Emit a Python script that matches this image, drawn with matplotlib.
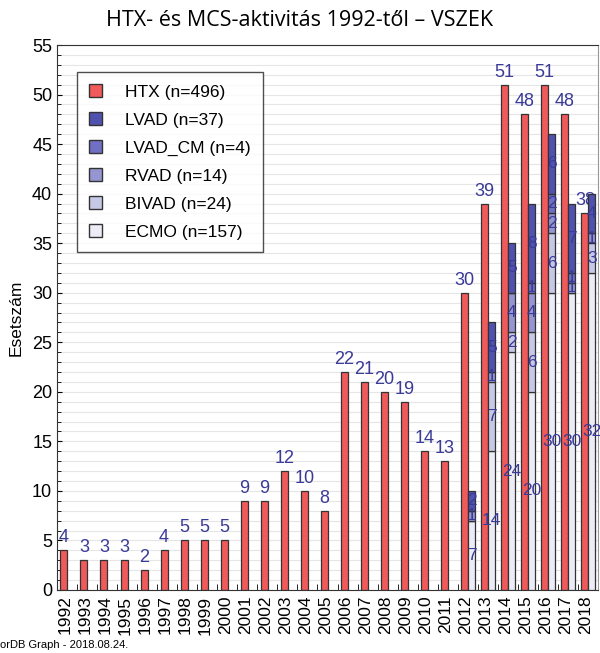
import numpy as np
import matplotlib.pyplot as plt
from matplotlib.patches import Patch

years = [str(y) for y in range(1992, 2019)]
htx = [4, 3, 3, 3, 2, 4, 5, 5, 5, 9, 9, 12, 10, 8, 22, 21, 20, 19, 14, 13,
       30, 39, 51, 48, 51, 48, 38]

# MCS stacks (2012-2018), bottom to top: ECMO, BIVAD, RVAD, LVAD_CM, LVAD
mcs_years = ['2012', '2013', '2014', '2015', '2016', '2017', '2018']
ecmo = [7, 14, 24, 20, 30, 30, 32]
bivad = [0, 7, 2, 6, 6, 0, 3]
rvad = [1, 1, 4, 4, 2, 1, 1]
lvad_cm = [0, 0, 0, 1, 2, 1, 0]
lvad = [2, 5, 5, 8, 6, 7, 4]

legend_labels = ['HTX (n=496)', 'LVAD (n=37)', 'LVAD_CM (n=4)', 'RVAD (n=14)',
                 'BIVAD (n=24)', 'ECMO (n=157)']

c_htx = '#f05a5a'
c_lvad = '#5151b0'
c_lvad_cm = '#6f6fc4'
c_rvad = '#9595d2'
c_bivad = '#c7c7e6'
c_ecmo = '#ececf7'
txt = '#3a3a98'

plt.rcParams['font.family'] = ['Liberation Sans', 'DejaVu Sans']

fig = plt.figure(figsize=(6, 6.53), dpi=100)
ax = fig.add_axes([57 / 600, 63 / 653, 541 / 600, 545 / 653])

x = np.arange(len(years))
bw = 0.35
ax.bar(x - 0.155, htx, width=bw, color=c_htx, edgecolor='#333333', linewidth=0.9, zorder=2)
for xi, v in zip(x, htx):
    ax.text(xi - 0.155, v + 0.4, str(v), ha='center', va='bottom', fontsize=13,
            color=txt, zorder=2.5)

mx = np.array([years.index(y) for y in mcs_years]) + 0.195
bottom = np.zeros(len(mcs_years))
for vals, col in [(ecmo, c_ecmo), (bivad, c_bivad), (rvad, c_rvad),
                  (lvad_cm, c_lvad_cm), (lvad, c_lvad)]:
    vals = np.array(vals)
    ax.bar(mx, vals, width=bw, bottom=bottom, color=col, edgecolor='#333333',
           linewidth=0.9, zorder=3)
    for xi, b, v in zip(mx, bottom, vals):
        if v > 0:
            ax.text(xi, b + v / 2, str(v), ha='center', va='center', fontsize=12.5,
                    color=txt, zorder=4)
    bottom = bottom + vals

ax.set_xlim(-0.5, len(years) - 0.5)
ax.set_ylim(0, 55)
ax.set_yticks(range(0, 56, 5))
ax.set_yticks(range(0, 56), minor=True)
ax.yaxis.grid(True, which='both', color='#e6e6e6', linewidth=0.8, zorder=0)
ax.set_axisbelow(True)
ax.set_xticks(x - 0.1)
ax.set_xticklabels(years, rotation=90, fontsize=12.5)
ax.set_xticks(x + 0.5, minor=True)
ax.tick_params(axis='x', which='major', length=0, pad=4)
ax.tick_params(axis='x', which='minor', direction='in', length=4)
ax.tick_params(axis='y', which='both', direction='in', labelsize=13)
ax.tick_params(axis='y', which='minor', length=3)
ax.set_ylabel('Esetszám', fontsize=12.5, labelpad=6)
for s in ax.spines.values():
    s.set_color('#333333')
ax.spines['right'].set_color('#999999')

handles = [Patch(facecolor=c, edgecolor='#333333') for c in
           [c_htx, c_lvad, c_lvad_cm, c_rvad, c_bivad, c_ecmo]]
leg = ax.legend(handles, legend_labels, loc='upper left', bbox_to_anchor=(0.037, 0.95),
                borderaxespad=0, fontsize=12.5, frameon=True, fancybox=False,
                edgecolor='#222222', handlelength=0.75, handleheight=0.75,
                labelspacing=0.72, borderpad=0.7, handletextpad=1.3)
leg.get_frame().set_linewidth(1.0)

fig.text(0.5, 1 - 20 / 653, 'HTX- és MCS-aktivitás 1992-től – VSZEK', ha='center',
         va='center', fontsize=15.5, family=['Open Sans', 'DejaVu Sans'])
fig.text(0.0, 1 - 645 / 653, 'orDB Graph - 2018.08.24.', ha='left', va='center',
         fontsize=8)

fig.savefig('out.png', dpi=100)
